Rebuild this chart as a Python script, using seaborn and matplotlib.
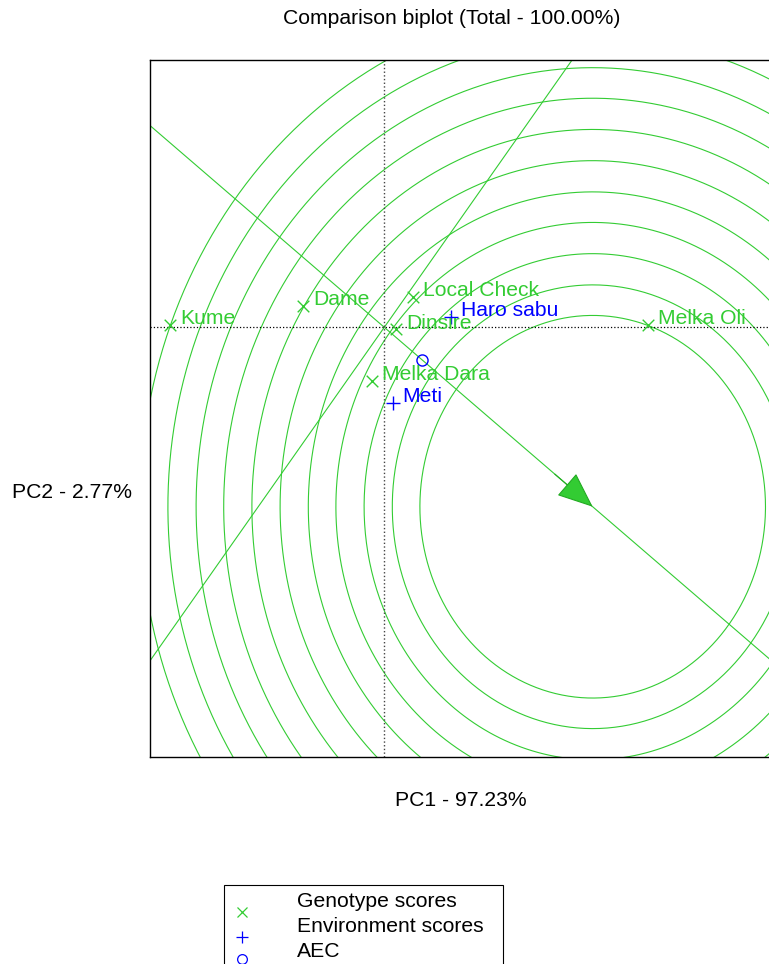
import matplotlib.pyplot as plt
from matplotlib.lines import Line2D
from matplotlib.patches import Rectangle
import numpy as np
import pandas as pd
import seaborn as sns

# scores
genotypes = ["Kume", "Dame", "Local Check", "Dinsire", "Melka Dara", "Melka Oli"]
gen_pc1 = [-3.57, -1.35, 0.48, 0.19, -0.21, 4.40]
gen_pc2 = [0.04, 0.32, 0.46, -0.03, -0.81, 0.04]

environments = ["Haro sabu", "Meti"]
env_pc1 = [1.12, 0.14]
env_pc2 = [0.16, -1.14]

# concentric rings round the ideal genotype
ring_radii = [2.88, 3.34, 3.81, 4.28, 4.74, 5.21, 5.68, 6.15, 6.61, 7.08, 7.55]

title = "Comparison biplot (Total - 100.00%)"
xlab = "PC1 - 97.23%"
ylab = "PC2 - 2.77%"
legend_labels = ["Genotype scores", "Environment scores", "AEC"]

green = "#33cc33"
blue = "#0000ff"
W, H = 769, 964
fs = 15.2

sns.set_style("white")
plt.rcParams["font.family"] = ["Liberation Sans", "DejaVu Sans"]
plt.rcParams["text.color"] = "black"

gen = pd.DataFrame({"pc1": gen_pc1, "pc2": gen_pc2, "name": genotypes})
env = pd.DataFrame({"pc1": env_pc1, "pc2": env_pc2, "name": environments})

# average environment coordinate and the ideal genotype on its axis
aec = np.array([env.pc1.mean(), env.pc2.mean()])
unit = aec / np.hypot(*aec)
ideal = unit * np.hypot(gen.pc1, gen.pc2).max()

fig = plt.figure(figsize=(W / 100, H / 100), dpi=100)
# plot box runs past the right edge of the picture, like the original
ax = fig.add_axes([150 / W, 1 - 757 / H, 697 / W, 697 / H])

t = np.linspace(0, 2 * np.pi, 500)
for r in ring_radii:
    ax.plot(ideal[0] + r * np.cos(t), ideal[1] + r * np.sin(t),
            color=green, lw=0.8, zorder=1)

ax.axline((0, 0), tuple(ideal), color=green, lw=0.8, zorder=1)
ax.axline((0, 0), (-unit[1], unit[0]), color=green, lw=0.8, zorder=1)
ax.annotate("", xy=tuple(ideal), xytext=tuple(ideal - unit * 0.8),
            arrowprops=dict(arrowstyle="-|>,head_length=2.3,head_width=0.95",
                            mutation_scale=10, fc=green, ec="#22aa22",
                            lw=0.8, shrinkA=0, shrinkB=0), zorder=2)

ax.axhline(0, color="black", ls=":", lw=0.9, zorder=1)
ax.axvline(0, color="#444444", ls=":", lw=1.0, zorder=1)

sns.scatterplot(data=gen, x="pc1", y="pc2", marker="x", color=green,
                s=70, linewidth=1, ax=ax, zorder=3)
sns.scatterplot(data=env, x="pc1", y="pc2", marker="+", color=blue,
                s=110, linewidth=1, ax=ax, zorder=3)
ax.plot(aec[0], aec[1], "o", mfc="none", mec=blue, ms=8, mew=1, zorder=3)

for _, row in gen.iterrows():
    ax.annotate(row["name"], (row.pc1, row.pc2), xytext=(7.3, 0.5),
                textcoords="offset points", color=green, fontsize=fs,
                va="baseline", ha="left", zorder=4)
for _, row in env.iterrows():
    ax.annotate(row["name"], (row.pc1, row.pc2), xytext=(7.0, 0.5),
                textcoords="offset points", color=blue, fontsize=fs,
                va="baseline", ha="left", zorder=4)

ax.set_xlim(-3.905, 7.712)
ax.set_ylim(-6.469, 4.024)
ax.set_xticks([])
ax.set_yticks([])
ax.set_xlabel("")
ax.set_ylabel("")
for sp in ax.spines.values():
    sp.set_color("black")
    sp.set_linewidth(1.0)

fig.text(452 / W, 1 - 18 / H, title, ha="center", va="center", fontsize=fs)
fig.text(461 / W, 1 - 800 / H, xlab, ha="center", va="center", fontsize=fs)
fig.text(72 / W, 1 - 493 / H, ylab, ha="center", va="center", fontsize=fs)

# legend box, cut off at the bottom like the original
fig.add_artist(Rectangle((224 / W, 1 - 1000 / H), (503 - 224) / W, 115 / H,
                         transform=fig.transFigure, fill=False,
                         ec="black", lw=0.8))
leg_marks = [dict(marker="x", color=green, ms=7, mew=0.9),
             dict(marker="+", color=blue, ms=9, mew=0.9),
             dict(marker="o", color=blue, mfc="none", ms=7, mew=0.9)]
mark_y = [912, 936.5, 959]
text_y = [906.7, 932, 956.7]
for lab, mk, my, ty in zip(legend_labels, leg_marks, mark_y, text_y):
    fig.add_artist(Line2D([241.7 / W], [1 - my / H], ls="none",
                          transform=fig.transFigure, **mk))
    fig.text(297 / W, 1 - ty / H, lab, ha="left", va="baseline", fontsize=fs)

fig.savefig("out.png", dpi=100)
